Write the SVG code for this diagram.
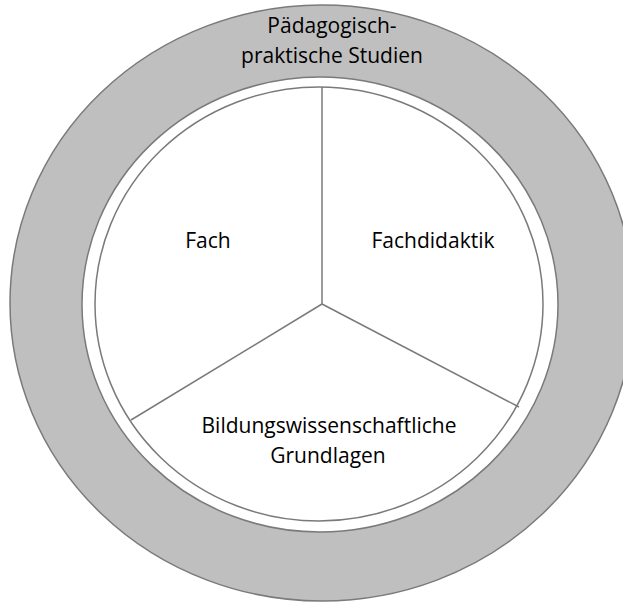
<svg xmlns="http://www.w3.org/2000/svg" width="623" height="603" viewBox="0 0 623 603">
<style>
.ln{stroke:#7a7a7a;stroke-width:1.5;}
.lbl{font-family:"Open Sans","Noto Sans",sans-serif;font-size:21px;fill:#000;text-anchor:middle;}
</style>
<rect width="623" height="603" fill="#fff"/>
<g id="ring">
<ellipse class="ln" cx="322" cy="303" rx="312" ry="298" fill="#bfbfbf"/>
<ellipse class="ln" cx="320" cy="304.5" rx="238" ry="227.5" fill="#fff"/>
<text class="lbl" x="332" y="33">Pädagogisch-</text>
<text class="lbl" x="332" y="63">praktische Studien</text>
</g>
<g id="pie">
<ellipse class="ln" cx="319" cy="304" rx="224" ry="217" fill="#fff"/>
</g>
<g id="connectors" fill="none">
<line class="ln" x1="322" y1="87" x2="322" y2="304"/>
<line class="ln" x1="322" y1="304" x2="131" y2="420"/>
<line class="ln" x1="322" y1="304" x2="519" y2="407"/>
</g>
<g id="fach"><text class="lbl" x="208" y="248">Fach</text></g>
<g id="fachdidaktik"><text class="lbl" x="433" y="248">Fachdidaktik</text></g>
<g id="bildung">
<text class="lbl" x="329" y="433">Bildungswissenschaftliche</text>
<text class="lbl" x="328" y="463">Grundlagen</text>
</g>
</svg>
